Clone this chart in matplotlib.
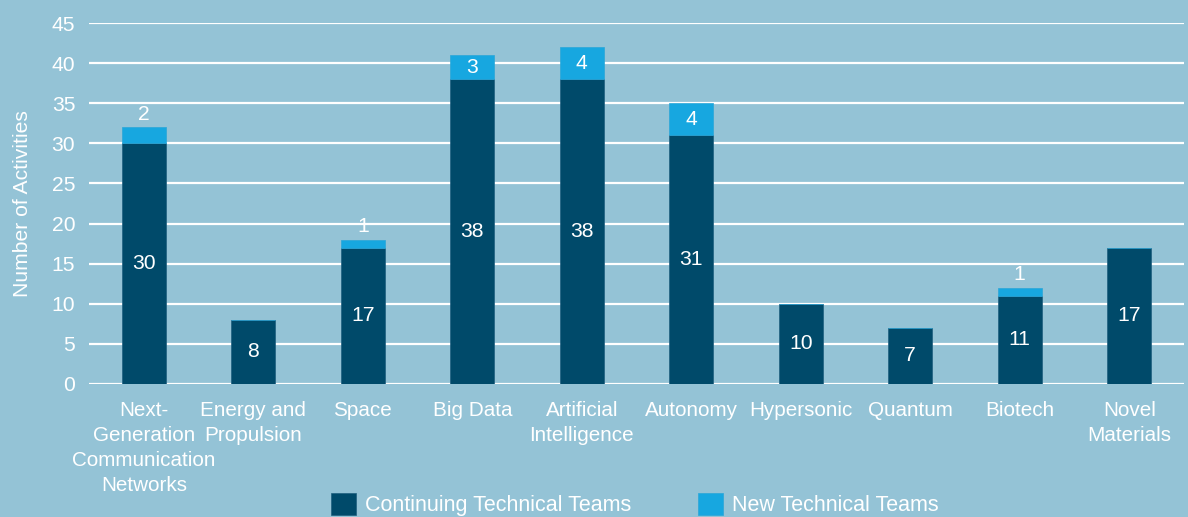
import numpy as np
import matplotlib
matplotlib.use('Agg')
import matplotlib.pyplot as plt

categories = ['Next-\nGeneration\nCommunication\nNetworks', 'Energy and\nPropulsion', 'Space',
              'Big Data', 'Artificial\nIntelligence', 'Autonomy', 'Hypersonic', 'Quantum',
              'Biotech', 'Novel\nMaterials']
continuing = [30, 8, 17, 38, 38, 31, 10, 7, 11, 17]
new_teams = [2, 0, 1, 3, 4, 4, 0, 0, 1, 0]
series_names = ['Continuing Technical Teams', 'New Technical Teams']
yticks = [0, 5, 10, 15, 20, 25, 30, 35, 40, 45]

bg = '#94c3d6'
dark = '#004a6a'
light = '#17a7e0'
fs = 15.2

plt.rcParams['font.family'] = ['Liberation Sans', 'DejaVu Sans']

fig = plt.figure(figsize=(11.88, 5.17), dpi=100, facecolor=bg)
ax = fig.add_axes([0.075, 0.2573, 0.9216, 0.6982])
ax.set_facecolor(bg)

x = np.arange(len(categories))
cont = np.array(continuing)
new = np.array(new_teams)
b1 = ax.bar(x, cont, width=0.4, color=dark, edgecolor='#1f5f7f', lw=0.5,
            label=series_names[0], zorder=3)
b2 = ax.bar(x, new, width=0.4, bottom=cont, color=light, edgecolor='#2aa6d8', lw=0.5,
            label=series_names[1], zorder=3)

for i in range(len(x)):
    ax.text(x[i], cont[i] / 2, str(cont[i]), ha='center', va='center',
            color='white', fontsize=fs, zorder=4)
    if new[i] == 0:
        continue
    if new[i] >= 3:
        ypos = cont[i] + new[i] / 2
    else:
        ypos = cont[i] + new[i] + 1.6
    ax.text(x[i], ypos, str(new[i]), ha='center', va='center',
            color='white', fontsize=fs, zorder=4)

ax.set_xlim(-0.5, len(categories) - 0.5)
ax.set_ylim(0, 45)
ax.set_yticks(yticks)
ax.yaxis.grid(True, color='white', lw=1.6, zorder=0)
ax.set_axisbelow(True)
for s in ax.spines.values():
    s.set_visible(False)
ax.tick_params(axis='both', length=0, colors='white', labelsize=fs)
ax.tick_params(axis='y', pad=10)
ax.tick_params(axis='x', pad=12, labelsize=14.9)
ax.set_xticks(x)
ax.set_xticklabels(categories, linespacing=1.4)
ax.set_ylabel('Number of Activities', color='white', fontsize=fs, labelpad=14)

fig.legend(handles=[b1, b2], loc='lower center', bbox_to_anchor=(0.534, -0.036), ncol=2,
           frameon=False, labelcolor='white', fontsize=15.5, handlelength=1.16,
           handleheight=1.16, columnspacing=3.1, handletextpad=0.42)

fig.savefig('out.png', dpi=100, facecolor=bg)
